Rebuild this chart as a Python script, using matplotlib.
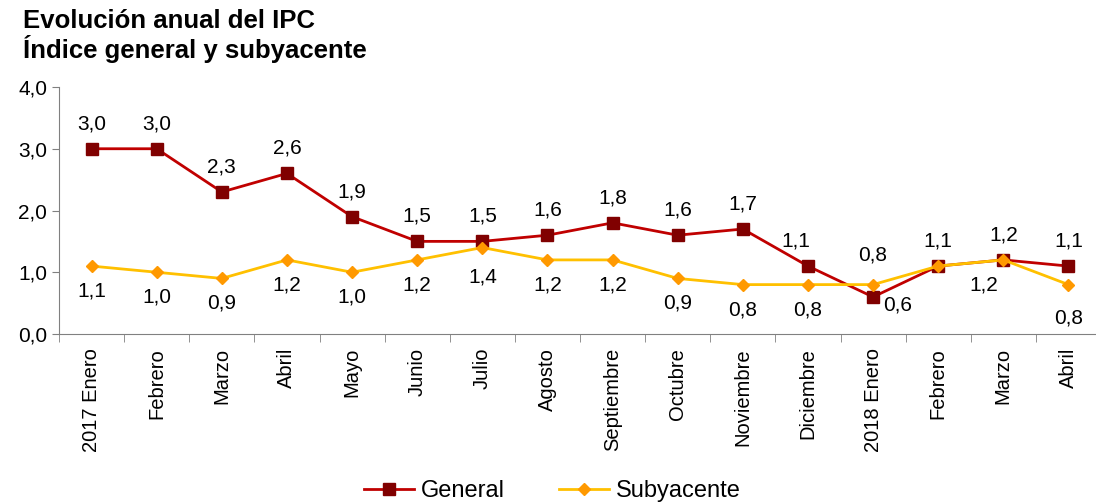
import numpy as np
import matplotlib.pyplot as plt
from matplotlib.ticker import FixedLocator, FuncFormatter

plt.rcParams['font.family'] = ['Liberation Sans', 'DejaVu Sans']

meses = ['2017 Enero', 'Febrero', 'Marzo', 'Abril', 'Mayo', 'Junio', 'Julio',
         'Agosto', 'Septiembre', 'Octubre', 'Noviembre', 'Diciembre',
         '2018 Enero', 'Febrero', 'Marzo', 'Abril']
general = [3.0, 3.0, 2.3, 2.6, 1.9, 1.5, 1.5, 1.6, 1.8, 1.6, 1.7, 1.1, 0.6, 1.1, 1.2, 1.1]
subyacente = [1.1, 1.0, 0.9, 1.2, 1.0, 1.2, 1.4, 1.2, 1.2, 0.9, 0.8, 0.8, 0.8, 1.1, 1.2, 0.8]

# label offsets in points (dx, dy); None = no label
off_gen = [(0, 18)] * 16
off_gen[11] = (-9, 18)
off_gen[12] = (18, -6)
off_sub = [(0, -18)] * 16
off_sub[6] = (0, -21)
off_sub[12] = (0, 21)
off_sub[13] = None
off_sub[14] = (-14, -18)
off_sub[15] = (0, -24)

fig = plt.figure(figsize=(10.96, 5.03), dpi=100)
ax = fig.add_axes([59 / 1096, 1 - 334 / 503, 1042 / 1096, (334 - 87) / 503])

x = np.arange(len(meses))
ax.plot(x, general, color='#C00000', lw=2, marker='s', ms=8,
        mfc='#800000', mec='#800000', label='General', zorder=3)
ax.plot(x, subyacente, color='#FFC000', lw=2, marker='D', ms=6,
        mfc='#FF9900', mec='#FF9900', label='Subyacente', zorder=4)

def fmt(v):
    return f'{v:.1f}'.replace('.', ',')

for i in range(len(x)):
    dx, dy = off_gen[i]
    ax.annotate(fmt(general[i]), (x[i], general[i]), xytext=(dx, dy),
                textcoords='offset points', ha='center', va='center', fontsize=15)
    if off_sub[i] is not None:
        dx, dy = off_sub[i]
        ax.annotate(fmt(subyacente[i]), (x[i], subyacente[i]), xytext=(dx, dy),
                    textcoords='offset points', ha='center', va='center', fontsize=15)

ax.set_xlim(-0.5, len(meses) - 0.5)
ax.set_ylim(0, 4)
ax.set_yticks([0, 1, 2, 3, 4])
ax.yaxis.set_major_formatter(FuncFormatter(lambda v, p: fmt(v)))
ax.set_xticks(x)
ax.set_xticklabels(meses, rotation=90, fontsize=14.5)
ax.xaxis.set_minor_locator(FixedLocator(np.arange(-0.5, len(meses), 1)))
ax.tick_params(axis='x', which='major', length=0, pad=10)
ax.tick_params(axis='x', which='minor', length=6, color='#808080')
ax.tick_params(axis='y', length=5, color='#808080', labelsize=15)

for s in ['top', 'right']:
    ax.spines[s].set_visible(False)
for s in ['left', 'bottom']:
    ax.spines[s].set_color('#808080')

fig.text(23 / 1096, 1 - 28 / 503, 'Evolución anual del IPC',
         fontsize=18.5, fontweight='bold', ha='left', va='baseline')
fig.text(23 / 1096, 1 - 58 / 503, 'Índice general y subyacente',
         fontsize=18.5, fontweight='bold', ha='left', va='baseline')

fig.legend(loc='center', bbox_to_anchor=(0.504, 1 - 491 / 503), ncol=2,
           frameon=False, fontsize=17, handlelength=2.1, columnspacing=2.3,
           handletextpad=0.3)

fig.savefig('out.png', dpi=100)
